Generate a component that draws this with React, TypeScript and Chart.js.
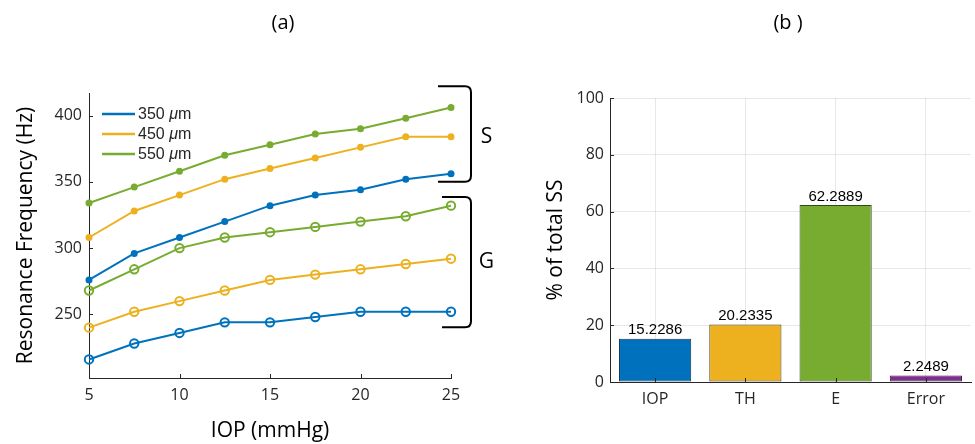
import React, { useEffect, useRef } from 'react';
import { Chart, registerables } from 'chart.js';

Chart.register(...registerables);

// ---------- data (panel a) ----------
const IOP_VALUES = [5, 7.5, 10, 12.5, 15, 17.5, 20, 22.5, 25];
const S_350 = [276, 296, 308, 320, 332, 340, 344, 352, 356];
const S_450 = [308, 328, 340, 352, 360, 368, 376, 384, 384];
const S_550 = [334, 346, 358, 370, 378, 386, 390, 398, 406];
const G_350 = [216, 228, 236, 244, 244, 248, 252, 252, 252];
const G_450 = [240, 252, 260, 268, 276, 280, 284, 288, 292];
const G_550 = [268, 284, 300, 308, 312, 316, 320, 324, 332];
const THICKNESS_LABELS = ['350 μm', '450 μm', '550 μm'];
const FREQ_TICKS = [250, 300, 350, 400];
const IOP_TICKS = [5, 10, 15, 20, 25];
const GROUP_LABELS = ['S', 'G'];
const GROUP_SPANS = [
  [350, 422],
  [240.3, 338.6],
];
const GROUP_LABEL_VALUES = [384, 289.5];

// ---------- data (panel b) ----------
const FACTORS = ['IOP', 'TH', 'E', 'Error'];
const SS_PERCENT = [15.2286, 20.2335, 62.2889, 2.2489];
const SS_TICKS = [0, 20, 40, 60, 80, 100];

// ---------- styles ----------
const BLUE = '#0072BD';
const YELLOW = '#EDB120';
const GREEN = '#77AC30';
const PURPLE = '#7E2F8E';
const AXIS = '#262626';
const SANS = "'Open Sans', sans-serif";
const ARIAL = "'Liberation Sans', Arial, sans-serif";
const TICK_FONT = { family: SANS, size: 16 };
const TITLE_FONT = { family: SANS, size: 21 };

const inwardTicks = {
  id: 'inwardTicks',
  afterDraw(chart: any) {
    const { ctx, chartArea: ca } = chart;
    const xs = chart.scales.x;
    const ys = chart.scales.y;
    ctx.save();
    ctx.strokeStyle = AXIS;
    ctx.lineWidth = 1;
    ctx.beginPath();
    ys.ticks.forEach((_t: any, i: number) => {
      const y = Math.round(ys.getPixelForTick(i)) + 0.5;
      ctx.moveTo(ca.left, y);
      ctx.lineTo(ca.left + 4, y);
    });
    xs.ticks.forEach((_t: any, i: number) => {
      const x = Math.round(xs.getPixelForTick(i)) + 0.5;
      ctx.moveTo(x, ca.bottom);
      ctx.lineTo(x, ca.bottom - 4);
    });
    ctx.stroke();
    ctx.restore();
  },
};

const legendPlugin = {
  id: 'thickLegend',
  afterDraw(chart: any) {
    const { ctx, chartArea: ca } = chart;
    chart.data.datasets.slice(0, 3).forEach((ds: any, i: number) => {
      const y = ca.top + 21 + i * 20;
      ctx.save();
      ctx.strokeStyle = ds.borderColor;
      ctx.lineWidth = 2.5;
      ctx.beginPath();
      ctx.moveTo(ca.left + 13, y);
      ctx.lineTo(ca.left + 46, y);
      ctx.stroke();
      const [num, unit] = String(ds.label).split(' ');
      ctx.fillStyle = AXIS;
      ctx.textBaseline = 'middle';
      ctx.textAlign = 'left';
      let x = ca.left + 49;
      ctx.font = `16px ${ARIAL}`;
      ctx.fillText(num + ' ', x, y + 1);
      x += ctx.measureText(num + ' ').width;
      ctx.font = `italic 16px ${ARIAL}`;
      ctx.fillText(unit.charAt(0), x, y + 1);
      x += ctx.measureText(unit.charAt(0)).width;
      ctx.font = `16px ${ARIAL}`;
      ctx.fillText(unit.slice(1), x, y + 1);
      ctx.restore();
    });
  },
};

const bracketPlugin = {
  id: 'brackets',
  afterDraw(chart: any) {
    const { ctx, chartArea: ca } = chart;
    const ys = chart.scales.y;
    ctx.save();
    ctx.strokeStyle = '#000';
    ctx.lineWidth = 2;
    GROUP_SPANS.forEach((span, i) => {
      const top = ys.getPixelForValue(span[1]);
      const bot = ys.getPixelForValue(span[0]);
      const xv = ca.right + 20;
      const x0 = ca.right - (i === 0 ? 13 : 9);
      const r = 6;
      ctx.beginPath();
      ctx.moveTo(x0, top);
      ctx.lineTo(xv - r, top);
      ctx.quadraticCurveTo(xv, top, xv, top + r);
      ctx.lineTo(xv, bot - r);
      ctx.quadraticCurveTo(xv, bot, xv - r, bot);
      ctx.lineTo(x0, bot);
      ctx.stroke();
      ctx.fillStyle = '#000';
      ctx.font = `21px ${SANS}`;
      ctx.textAlign = 'center';
      ctx.textBaseline = 'middle';
      ctx.fillText(GROUP_LABELS[i], ca.right + 35.5, ys.getPixelForValue(GROUP_LABEL_VALUES[i]));
    });
    ctx.restore();
  },
};

const barLabels = {
  id: 'barLabels',
  afterDatasetsDraw(chart: any) {
    const { ctx } = chart;
    const meta = chart.getDatasetMeta(0);
    ctx.save();
    ctx.fillStyle = '#000';
    ctx.font = `15px ${ARIAL}`;
    ctx.textAlign = 'center';
    ctx.textBaseline = 'bottom';
    meta.data.forEach((bar: any, i: number) => {
      ctx.fillText(String(SS_PERCENT[i]), bar.x, bar.y - 1);
    });
    ctx.restore();
  },
};

function lineDataset(label: string, values: number[], color: string, open: boolean) {
  return {
    label,
    data: IOP_VALUES.map((x, i) => ({ x, y: values[i] })),
    borderColor: color,
    backgroundColor: color,
    borderWidth: 2,
    pointRadius: open ? 4.2 : 3.5,
    pointBorderWidth: open ? 2 : 0,
    pointBorderColor: color,
    pointBackgroundColor: open ? 'rgba(255,255,255,0)' : color,
    clip: false,
    tension: 0,
  };
}

export default function App() {
  const refA = useRef<HTMLCanvasElement>(null);
  const refB = useRef<HTMLCanvasElement>(null);

  useEffect(() => {
    const chartA = new Chart(refA.current as HTMLCanvasElement, {
      type: 'line',
      data: {
        datasets: [
          lineDataset(THICKNESS_LABELS[0], S_350, BLUE, false),
          lineDataset(THICKNESS_LABELS[1], S_450, YELLOW, false),
          lineDataset(THICKNESS_LABELS[2], S_550, GREEN, false),
          lineDataset('G ' + THICKNESS_LABELS[0], G_350, BLUE, true),
          lineDataset('G ' + THICKNESS_LABELS[1], G_450, YELLOW, true),
          lineDataset('G ' + THICKNESS_LABELS[2], G_550, GREEN, true),
        ],
      } as any,
      options: {
        responsive: false,
        animation: false,
        layout: { padding: { top: 93, right: 49, bottom: 0, left: 0 } },
        plugins: { legend: { display: false }, tooltip: { enabled: false } },
        scales: {
          x: {
            type: 'linear',
            min: 5,
            max: 25,
            afterBuildTicks: (s: any) => {
              s.ticks = IOP_TICKS.map((v) => ({ value: v }));
            },
            afterFit: (s: any) => {
              s.height = 66;
            },
            grid: { display: true, drawOnChartArea: false, drawTicks: false, color: 'rgba(0,0,0,0)' },
            border: { display: true, color: AXIS, width: 1 },
            ticks: { color: AXIS, font: TICK_FONT, padding: 8, maxRotation: 0 },
            title: { display: true, text: 'IOP (mmHg)', color: '#000', font: TITLE_FONT, padding: { top: 0, bottom: 0 } },
          },
          y: {
            type: 'linear',
            min: 202,
            max: 417,
            afterBuildTicks: (s: any) => {
              s.ticks = FREQ_TICKS.map((v) => ({ value: v }));
            },
            afterFit: (s: any) => {
              s.width = 89;
            },
            grid: { display: true, drawOnChartArea: false, drawTicks: false, color: 'rgba(0,0,0,0)' },
            border: { display: true, color: AXIS, width: 1 },
            ticks: { color: AXIS, font: TICK_FONT, padding: 7 },
            title: { display: true, text: 'Resonance Frequency (Hz)', color: '#000', font: TITLE_FONT, padding: { top: 13, bottom: 0 } },
          },
        },
      } as any,
      plugins: [inwardTicks, legendPlugin, bracketPlugin],
    });

    const chartB = new Chart(refB.current as HTMLCanvasElement, {
      type: 'bar',
      data: {
        labels: FACTORS,
        datasets: [
          {
            label: '% of total SS',
            data: SS_PERCENT,
            backgroundColor: [BLUE, YELLOW, GREEN, PURPLE],
            borderColor: ['#0d3552', '#4a3a10', '#2f4a12', '#3a1a40'],
            borderWidth: 1,
            borderSkipped: false,
            barPercentage: 0.8,
            categoryPercentage: 1,
          },
        ],
      },
      options: {
        responsive: false,
        animation: false,
        layout: { padding: { top: 98, right: 4, bottom: 0, left: 0 } },
        plugins: { legend: { display: false }, tooltip: { enabled: false } },
        scales: {
          x: {
            type: 'category',
            offset: true,
            afterFit: (s: any) => {
              s.height = 62;
            },
            grid: { display: true, offset: false, drawTicks: false, color: 'rgba(0,0,0,0.09)' },
            border: { display: true, color: AXIS, width: 1 },
            ticks: { color: AXIS, font: TICK_FONT, padding: 8, maxRotation: 0 },
          },
          y: {
            type: 'linear',
            min: 0,
            max: 100,
            afterBuildTicks: (s: any) => {
              s.ticks = SS_TICKS.map((v) => ({ value: v }));
            },
            afterFit: (s: any) => {
              s.width = 110;
            },
            grid: { display: true, drawTicks: false, color: 'rgba(0,0,0,0.09)' },
            border: { display: true, color: AXIS, width: 1 },
            ticks: { color: AXIS, font: TICK_FONT, padding: 6 },
            title: { display: true, text: '% of total SS', color: '#000', font: TITLE_FONT, padding: { top: 43, bottom: 0 } },
          },
        },
      } as any,
      plugins: [inwardTicks, barLabels],
    });

    return () => {
      chartA.destroy();
      chartB.destroy();
    };
  }, []);

  const titleStyle: React.CSSProperties = {
    position: 'absolute',
    top: 9,
    width: 100,
    textAlign: 'center',
    fontFamily: SANS,
    fontSize: 20,
    lineHeight: '26px',
    color: '#000',
  };

  return (
    <div style={{ position: 'fixed', left: 0, top: 0, width: 975, height: 444, background: '#fff', overflow: 'hidden' }}>
      <canvas ref={refA} width={500} height={444} style={{ position: 'absolute', left: 0, top: 0 }} />
      <canvas ref={refB} width={475} height={444} style={{ position: 'absolute', left: 500, top: 0 }} />
      <div style={{ ...titleStyle, left: 233 }}>(a)</div>
      <div style={{ ...titleStyle, left: 738 }}>(b )</div>
    </div>
  );
}
